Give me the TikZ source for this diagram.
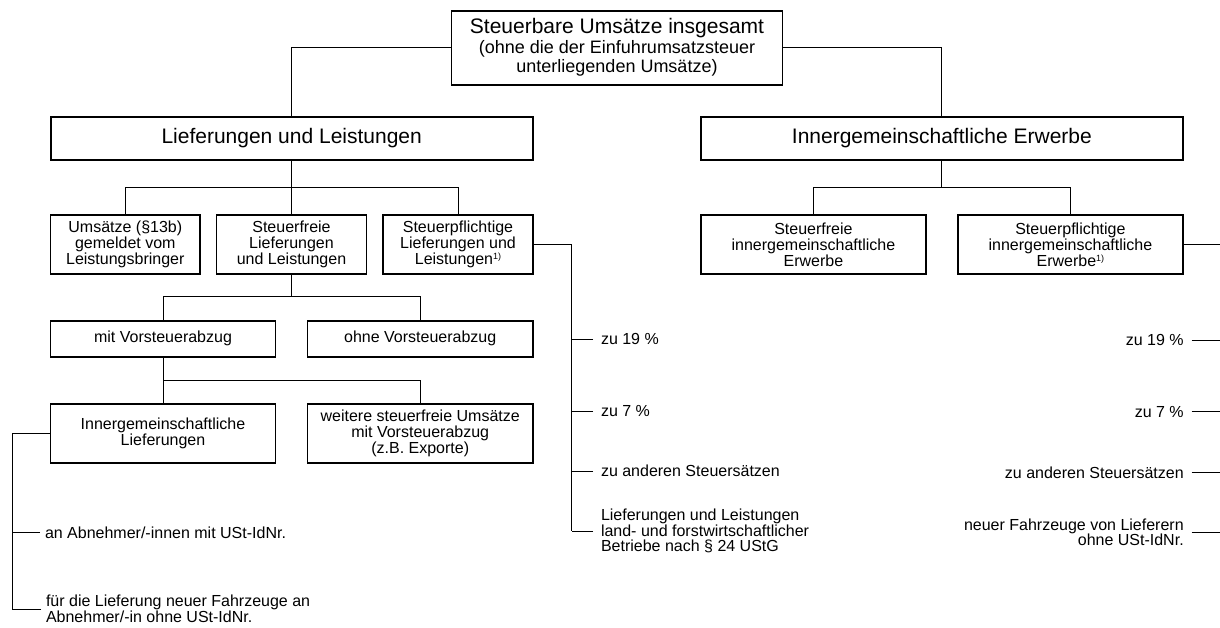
\documentclass[tikz,border=0pt]{standalone}
\usepackage{fontspec}
\setmainfont{Liberation Sans}
\newcommand\fnmark{\raisebox{5pt}{\fontsize{9}{9}\selectfont 1)}}
\tikzset{
  box/.style={draw, line width=1.7pt, inner sep=0pt, outer sep=0pt, align=center, font=\fontsize{16}{16}\selectfont},
  big/.style={box, font=\fontsize{21}{24}\selectfont},
  conn/.style={line width=1pt},
  leafl/.style={inner xsep=8pt, inner ysep=0pt, outer sep=0pt, font=\fontsize{16}{15.5}\selectfont},
  leafs/.style={inner xsep=5pt, inner ysep=0pt, outer sep=0pt, font=\fontsize{16}{15.5}\selectfont}
}
\begin{document}
\begin{tikzpicture}[x=1pt, y=-1pt]
\useasboundingbox (0,0) rectangle (1220,628);

% boxes
\node[big, minimum width=331pt, minimum height=74pt] (top) at (617,47.7)
  {Steuerbare Umsätze insgesamt\\[-4pt]{\fontsize{18}{19}\selectfont (ohne die der Einfuhrumsatzsteuer}\\[-5pt]{\fontsize{18}{19}\selectfont unterliegenden Umsätze)}};
\node[big, minimum width=482pt, minimum height=43.6pt] (LL) at (291.7,138.5) {Lieferungen und Leistungen};
\node[big, minimum width=482pt, minimum height=43.6pt] (IE) at (941.9,138.5) {Innergemeinschaftliche Erwerbe};

\node[box, minimum width=149.5pt, minimum height=59pt] (A) at (125.3,244.5) {Umsätze (§13b)\\gemeldet vom\\Leistungsbringer};
\node[box, minimum width=149.8pt, minimum height=59pt] (B) at (291.5,244.5) {Steuerfreie\\Lieferungen\\und Leistungen};
\node[box, minimum width=149.8pt, minimum height=59pt] (C) at (458,244.5) {Steuerpflichtige\\Lieferungen und\\Leistungen\fnmark};
\node[box, minimum width=225.2pt, minimum height=59pt] (D) at (813.4,244.5) {Steuerfreie\\innergemeinschaftliche\\Erwerbe};
\node[box, minimum width=225.3pt, minimum height=59pt] (E) at (1070.4,244.5) {Steuerpflichtige\\innergemeinschaftliche\\Erwerbe\fnmark};

\node[box, minimum width=225pt, minimum height=36pt] (mit) at (163,338.7) {mit Vorsteuerabzug};
\node[box, minimum width=225.3pt, minimum height=36pt] (ohne) at (420.2,338.7) {ohne Vorsteuerabzug};
\node[box, minimum width=225pt, minimum height=58.7pt] (IGL) at (163,433.3) {Innergemeinschaftliche\\Lieferungen};
\node[box, minimum width=225.3pt, minimum height=58.7pt] (wei) at (420.2,433.3) {weitere steuerfreie Umsätze\\mit Vorsteuerabzug\\(z.B. Exporte)};

% tree connectors
\draw[conn] (top.west) -| (LL.north);
\draw[conn] (top.east) -| (IE.north);
\coordinate (b1) at (0,187.7);
\coordinate (b2) at (0,296.7);
\coordinate (b3) at (0,380.3);
\draw[conn] (LL.south) -- (LL.south |- b1);
\draw[conn] (A.north) |- (C.north |- b1) -- (C.north);
\draw[conn] (B.north) -- (B.north |- b1);
\draw[conn] (IE.south) -- (IE.south |- b1);
\draw[conn] (D.north) |- (E.north |- b1) -- (E.north);
\draw[conn] (B.south) -- (B.south |- b2);
\draw[conn] (mit.north) |- (ohne.north |- b2) -- (ohne.north);
\draw[conn] (mit.south) -- (mit.south |- b3);
\draw[conn] (IGL.north) |- (wei.north |- b3) -- (wei.north);

% leaves of C
\coordinate (cr) at (571.7,531);
\draw[conn] (C.east) -| (cr);
\node[leafl, anchor=west] (c19) at (593,339) {zu 19 \%};
\node[leafl, anchor=west] (c7) at (593,411) {zu 7 \%};
\node[leafl, anchor=west] (cand) at (593,471) {zu anderen Steuersätzen};
\node[leafl, anchor=west, align=left] (clf) at (593,531) {Lieferungen und Leistungen\\land- und forstwirtschaftlicher\\Betriebe nach § 24 UStG};
\draw[conn] (c19.west) -- (c19.west -| cr);
\draw[conn] (c7.west) -- (c7.west -| cr);
\draw[conn] (cand.west) -- (cand.west -| cr);
\draw[conn] (clf.west) -- (clf.west -| cr);

% leaves of IGL
\coordinate (lt) at (12.3,609);
\draw[conn] (IGL.west) -| (lt);
\node[leafs, anchor=west] (ab1) at (40,532.5) {an Abnehmer/-innen mit USt-IdNr.};
\node[leafs, anchor=west, align=left] (ab2) at (41,609) {für die Lieferung neuer Fahrzeuge an\\Abnehmer/-in ohne USt-IdNr.};
\draw[conn] (ab1.west) -- (ab1.west -| lt);
\draw[conn] (ab2.west) -- (ab2.west -| lt);

% leaves of E
\coordinate (er) at (1220,532.3);
\draw[conn] (E.east) -- (E.east -| er);
\node[leafl, anchor=east] (e19) at (1191.7,340) {zu 19 \%};
\node[leafl, anchor=east] (e7) at (1191.7,411.7) {zu 7 \%};
\node[leafl, anchor=east] (eand) at (1191.7,472.3) {zu anderen Steuersätzen};
\node[leafl, anchor=east, align=right] (eneu) at (1191.7,532.3) {neuer Fahrzeuge von Lieferern\\ohne USt-IdNr.};
\draw[conn] (e19.east) -- (e19.east -| er);
\draw[conn] (e7.east) -- (e7.east -| er);
\draw[conn] (eand.east) -- (eand.east -| er);
\draw[conn] (eneu.east) -- (eneu.east -| er);
\end{tikzpicture}
\end{document}
